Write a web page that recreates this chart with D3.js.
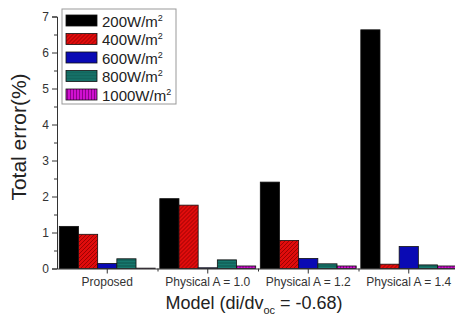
<!DOCTYPE html>
<html>
<head>
<meta charset="utf-8">
<script src="https://cdn.jsdelivr.net/npm/d3@7"></script>
<style>
  body { margin: 0; background: #fff; }
  svg { font-family: Arial, "Liberation Sans", sans-serif; }
</style>
</head>
<body>
<div id="chart"></div>
<script>
var categories = ["Proposed", "Physical A = 1.0", "Physical A = 1.2", "Physical A = 1.4"];
var seriesNames = ["200", "400", "600", "800", "1000"];
var s200 = [1.17, 1.94, 2.40, 6.63];
var s400 = [0.95, 1.76, 0.78, 0.12];
var s600 = [0.14, 0.02, 0.28, 0.61];
var s800 = [0.27, 0.24, 0.13, 0.10];
var s1000 = [0.01, 0.07, 0.07, 0.07];
var yTicks = [0, 1, 2, 3, 4, 5, 6, 7];

var allSeries = [s200, s400, s600, s800, s1000];
var fills = ["#000000", "url(#pRed)", "#0a0ab4", "url(#pTeal)", "url(#pMag)"];

var W = 455, H = 320;
var svg = d3.select("#chart").append("svg")
    .attr("width", W).attr("height", H);

// hatch patterns like the Origin fills
var defs = svg.append("defs");
function hatch(id, bg, line, path, w, h) {
    var p = defs.append("pattern").attr("id", id)
        .attr("patternUnits", "userSpaceOnUse")
        .attr("width", w).attr("height", h);
    p.append("rect").attr("width", w).attr("height", h).attr("fill", bg);
    p.append("path").attr("d", path).attr("stroke", line).attr("stroke-width", 0.8);
}
hatch("pRed", "#e00c0c", "#8a0000", "M-1,1 l2,-2 M0,4 l4,-4 M3,5 l2,-2", 4, 4);
hatch("pTeal", "#17786e", "#0b4a44", "M0,2 h4", 4, 3);
hatch("pMag", "#d010d0", "#7a007a", "M1.5,0 v4", 3, 4);

var x = d3.scaleBand().domain(categories).range([57, 459]).paddingInner(0).paddingOuter(0);
var y = d3.scaleLinear().domain([0, 7]).range([268.5, 16.5]);
var inner = d3.scaleBand().domain(seriesNames).range([0, x.bandwidth()]).paddingOuter(0.12);

// bars
var groups = svg.selectAll(".grp").data(categories).enter().append("g")
    .attr("transform", function(d) { return "translate(" + x(d) + ",0)"; });
groups.each(function(cat, ci) {
    d3.select(this).selectAll("rect").data(seriesNames).enter().append("rect")
        .attr("x", function(s) { return inner(s); })
        .attr("y", function(s, si) { return y(allSeries[si][ci]); })
        .attr("width", inner.bandwidth())
        .attr("height", function(s, si) { return y(0) - y(allSeries[si][ci]); })
        .attr("fill", function(s, si) { return fills[si]; })
        .attr("stroke", "#111")
        .attr("stroke-width", 0.8);
});

// y axis
svg.append("g").attr("transform", "translate(57,0)")
    .call(d3.axisLeft(y).tickValues(yTicks).tickSize(5).tickPadding(3).tickFormat(d3.format("d")));
svg.append("g").attr("transform", "translate(57,0)")
    .call(d3.axisLeft(y).tickValues(d3.range(0.5, 7, 1)).tickSize(3).tickFormat(""))
    .select(".domain").remove();

// x axis: labels at centres, small ticks at boundaries
svg.append("g").attr("transform", "translate(0,268.5)")
    .call(d3.axisBottom(x).tickSize(5).tickPadding(4).tickSizeOuter(0));
svg.append("g").attr("transform", "translate(0,268.5)")
    .call(d3.axisBottom(d3.scaleLinear().domain([0, 4]).range([57, 459])).tickValues([1, 2, 3]).tickSize(3).tickFormat(""))
    .select(".domain").remove();

svg.selectAll(".tick text").attr("fill", "#333").style("font-size", "12px");
svg.selectAll(".domain, .tick line").attr("stroke", "#333").attr("stroke-width", 1);

// axis titles
svg.append("text")
    .attr("transform", "translate(26,137) rotate(-90)")
    .attr("text-anchor", "middle")
    .attr("fill", "#222")
    .style("font-size", "21px")
    .text("Total error(%)");

var xt = svg.append("text")
    .attr("x", 254).attr("y", 309)
    .attr("text-anchor", "middle")
    .attr("fill", "#222")
    .style("font-size", "18px");
xt.append("tspan").text("Model (di/dv");
xt.append("tspan").attr("dy", 5).style("font-size", "11px").text("oc");
xt.append("tspan").attr("dy", -5).text(" = -0.68)");

// legend
var legend = svg.append("g").attr("transform", "translate(62,9)");
legend.append("rect").attr("width", 114).attr("height", 95)
    .attr("fill", "#fff").attr("stroke", "#999");
var items = legend.selectAll(".item").data(seriesNames).enter().append("g")
    .attr("transform", function(d, i) { return "translate(4," + (6 + i * 18.5) + ")"; });
items.append("rect").attr("width", 31).attr("height", 11)
    .attr("fill", function(d, i) { return fills[i]; })
    .attr("stroke", "#111").attr("stroke-width", 0.8);
var lt = items.append("text").attr("x", 36).attr("y", 11.5)
    .attr("fill", "#222").style("font-size", "15px");
lt.append("tspan").text(function(d) { return d + "W/m"; });
lt.append("tspan").attr("dy", -6).style("font-size", "9px").text("2");
</script>
</body>
</html>
